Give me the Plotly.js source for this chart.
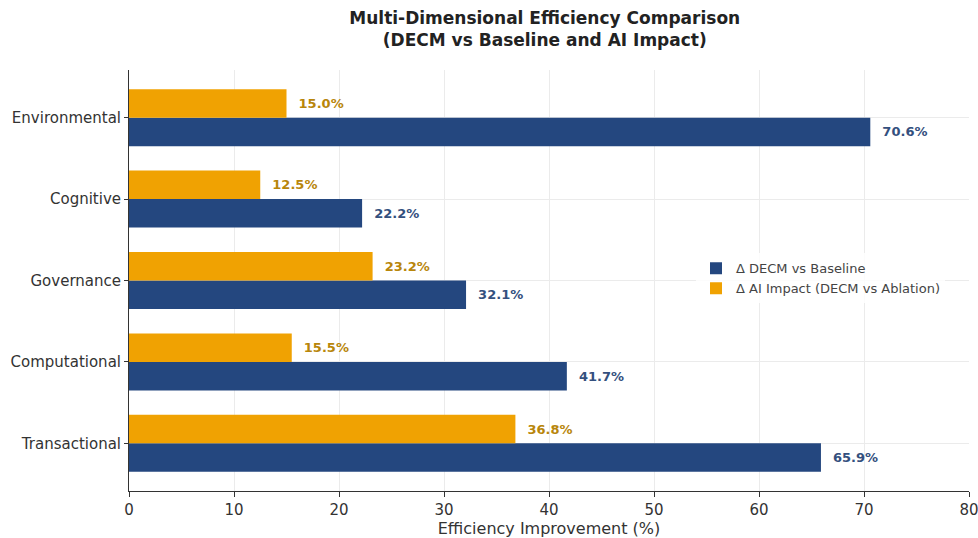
<!DOCTYPE html>
<html>
<head>
<meta charset="utf-8">
<script src="https://cdn.plot.ly/plotly-3.0.1.min.js"></script>
<style>
  html, body { margin: 0; padding: 0; background: #ffffff; }
  #chart { width: 978px; height: 538px; }
</style>
</head>
<body>
<div id="chart"></div>
<script>
// Efficiency dimensions, listed bottom to top
const dimensions = ['Transactional', 'Computational', 'Governance', 'Cognitive', 'Environmental'];

// Improvement of DECM over the baseline (%)
const decmVsBaseline = [65.9, 41.7, 32.1, 22.2, 70.6];

// Improvement attributable to AI (DECM vs ablation) (%)
const aiImpact = [36.8, 15.5, 23.2, 12.5, 15.0];

const xTicks = [0, 10, 20, 30, 40, 50, 60, 70, 80];

const FONT = 'DejaVu Sans, sans-serif';
const pad = '\u00a0\u00a0';

const traces = [
  {
    type: 'bar',
    orientation: 'h',
    name: 'Δ DECM vs Baseline',
    y: dimensions,
    x: decmVsBaseline,
    marker: { color: '#24477f' },
    text: decmVsBaseline.map(v => pad + v.toFixed(1) + '%'),
    textposition: 'outside',
    cliponaxis: false,
    outsidetextfont: { family: FONT, size: 13, color: '#34507e', weight: 'bold' },
    hoverinfo: 'x+y'
  },
  {
    type: 'bar',
    orientation: 'h',
    name: 'Δ AI Impact (DECM vs Ablation)',
    y: dimensions,
    x: aiImpact,
    marker: { color: '#f0a202' },
    text: aiImpact.map(v => pad + v.toFixed(1) + '%'),
    textposition: 'outside',
    cliponaxis: false,
    outsidetextfont: { family: FONT, size: 13, color: '#b8860b', weight: 'bold' },
    hoverinfo: 'x+y'
  }
];

const layout = {
  width: 978,
  height: 538,
  margin: { l: 129, r: 9, t: 70, b: 47, pad: 0 },
  paper_bgcolor: '#ffffff',
  plot_bgcolor: '#ffffff',
  font: { family: FONT, color: '#333333' },
  barmode: 'group',
  bargap: 0.3,
  bargroupgap: 0,
  title: {
    text: '<b>Multi-Dimensional Efficiency Comparison<br>(DECM vs Baseline and AI Impact)</b>',
    font: { family: FONT, size: 17, color: '#222222' },
    x: 0.557,
    xanchor: 'center',
    y: 0.955,
    yanchor: 'top'
  },
  xaxis: {
    range: [0, 80],
    tickvals: xTicks,
    ticktext: xTicks.map(String),
    tickfont: { family: FONT, size: 15, color: '#333333' },
    ticklabeloverflow: 'allow',
    ticks: 'outside',
    ticklen: 5,
    tickcolor: '#333333',
    showline: true,
    linecolor: '#333333',
    linewidth: 1,
    showgrid: true,
    gridcolor: '#ebebeb',
    gridwidth: 1,
    zeroline: false,
    title: {
      text: 'Efficiency Improvement (%)',
      font: { family: FONT, size: 16, color: '#333333' },
      standoff: 4
    }
  },
  yaxis: {
    type: 'category',
    range: [-0.585, 4.585],
    tickfont: { family: FONT, size: 15, color: '#333333' },
    ticks: 'outside',
    ticklen: 4,
    tickcolor: '#333333',
    showline: true,
    linecolor: '#333333',
    linewidth: 1,
    showgrid: true,
    gridcolor: '#ebebeb',
    gridwidth: 1,
    zeroline: false
  },
  legend: {
    x: 0.675,
    xanchor: 'left',
    y: 0.505,
    yanchor: 'middle',
    bgcolor: 'rgba(255,255,255,0.85)',
    borderwidth: 0,
    font: { family: FONT, size: 13, color: '#444444' },
    traceorder: 'normal',
    tracegroupgap: 0
  },
  showlegend: true
};

Plotly.newPlot('chart', traces, layout, { displayModeBar: false, staticPlot: true });
</script>
</body>
</html>
